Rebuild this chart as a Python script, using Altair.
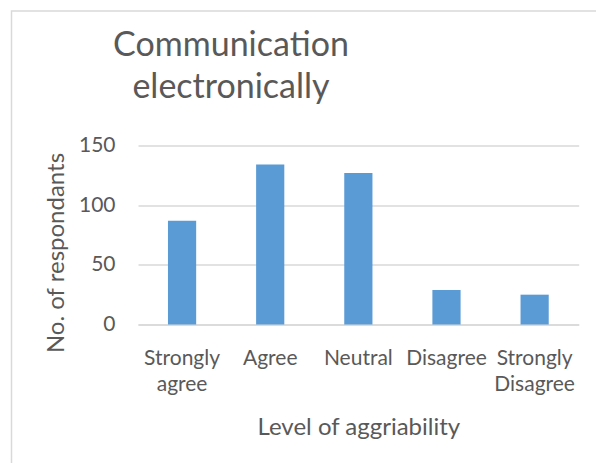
import altair as alt
import pandas as pd

# Survey answers and respondent counts
levels = ["Strongly agree", "Agree", "Neutral", "Disagree", "Strongly Disagree"]
respondents = [87, 134, 127, 29, 25]
y_ticks = [0, 50, 100, 150]

df = pd.DataFrame({"level": levels, "count": respondents})

FONT = "Lato"
GREY = "#595959"
LIGHT = "#d9d9d9"

bars = alt.Chart(df).mark_bar(color="#5b9bd5").encode(
    x=alt.X(
        "level:N",
        sort=levels,
        scale=alt.Scale(paddingInner=0.68, paddingOuter=0.34),
        axis=alt.Axis(
            title="Level of aggriability",
            labelAngle=0,
            labelExpr="split(datum.label, ' ')",
            labelFont=FONT,
            labelFontSize=21,
            labelColor=GREY,
            labelPadding=23,
            labelLineHeight=26,
            labelBaseline="top",
            ticks=False,
            domainColor=LIGHT,
            domainWidth=1.3,
            titleFont=FONT,
            titleFontSize=24,
            titleFontWeight="normal",
            titleColor=GREY,
            titleBaseline="alphabetic",
            titleY=110,
        ),
    ),
    y=alt.Y(
        "count:Q",
        scale=alt.Scale(domain=[0, 150]),
        axis=alt.Axis(
            title="No. of respondants",
            values=y_ticks,
            labelFont=FONT,
            labelFontSize=21,
            labelColor=GREY,
            labelPadding=23,
            ticks=False,
            domain=False,
            grid=True,
            gridColor=LIGHT,
            gridWidth=1.3,
            titleFont=FONT,
            titleFontSize=24,
            titleFontWeight="normal",
            titleColor=GREY,
            titleBaseline="alphabetic",
            titleAngle=-90,
            titleX=-75,
            titleY=107,
        ),
    ),
)

# Light outline around the chart area
frame = alt.Chart(pd.DataFrame({"k": [0]})).mark_rect(
    filled=False, stroke=LIGHT, strokeWidth=1.5
).encode(
    x=alt.value(-126.5),
    y=alt.value(-134.5),
    x2=alt.value(700),
    y2=alt.value(600),
)

chart = alt.layer(frame, bars).properties(
    width=440.7,
    height=179,
    background="white",
    autosize=alt.AutoSizeParams(type="none"),
    padding={"left": 138, "top": 145.5, "right": 17.3, "bottom": 138.5},
    title=alt.TitleParams(
        text=["Communication", "electronically"],
        anchor="start",
        align="center",
        frame="group",
        dx=93,
        dy=126,
        font=FONT,
        fontSize=34,
        fontWeight="normal",
        color=GREY,
        lineHeight=42,
        baseline="alphabetic",
    ),
).configure_view(stroke=None)

chart.save("out.html", embed_options={"renderer": "svg", "actions": False})
